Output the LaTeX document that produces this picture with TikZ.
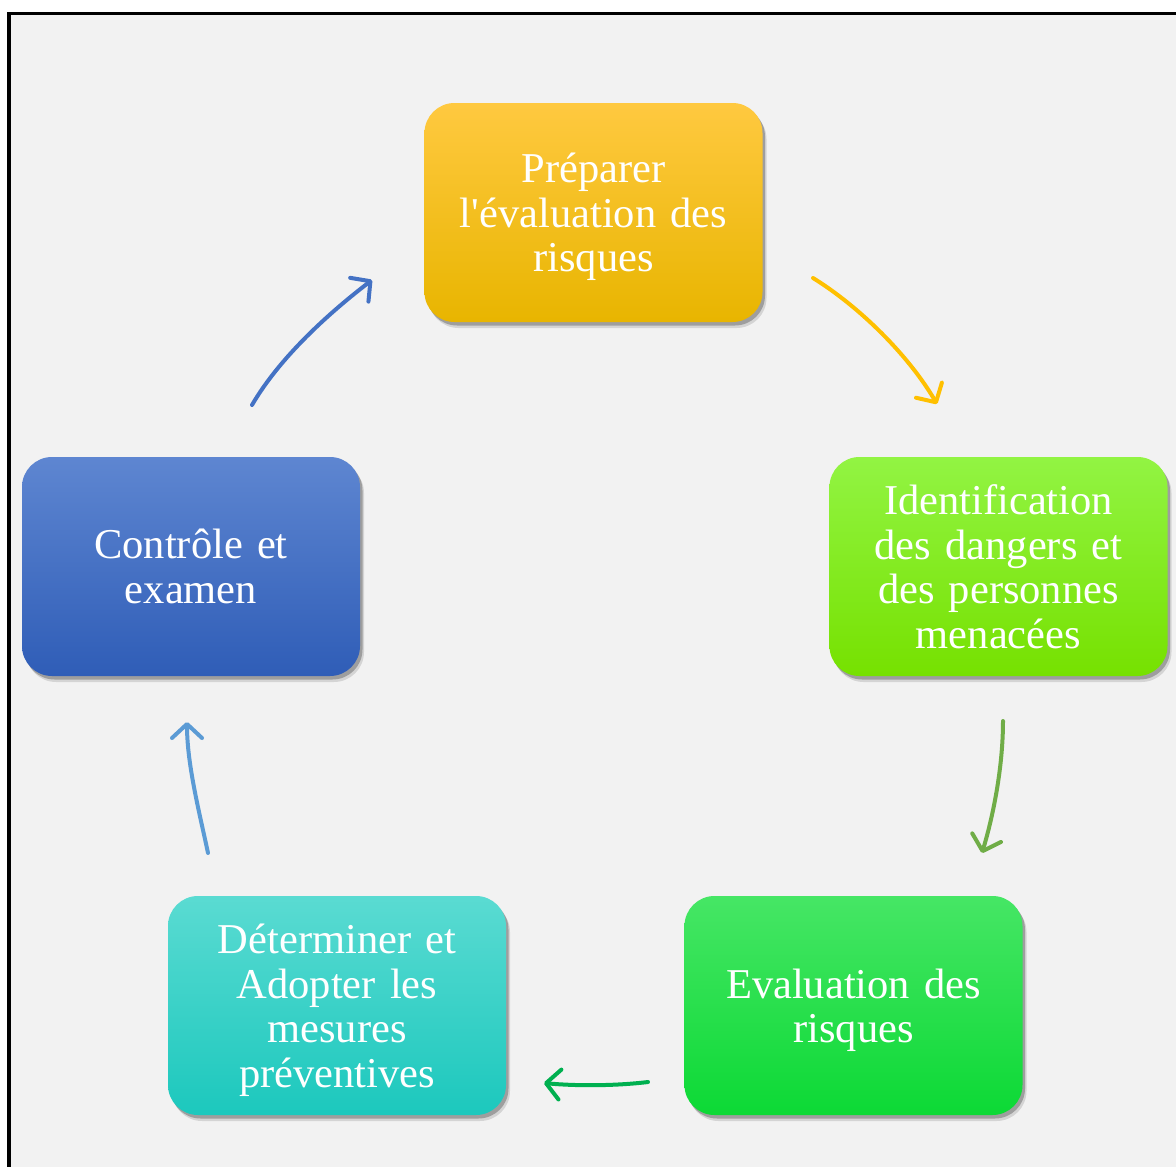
\documentclass[tikz,border=0pt]{standalone}
\usepackage{fontspec}
\setmainfont{Liberation Serif}
\setmonofont{Liberation Serif}
\usetikzlibrary{arrows.meta,shadows}
\definecolor{bgc}{HTML}{F2F2F2}
\definecolor{aOrange}{HTML}{FFC000}
\definecolor{aOlive}{HTML}{70AD47}
\definecolor{aGreen}{HTML}{00B050}
\definecolor{aLight}{HTML}{5B9BD5}
\definecolor{aBlue}{HTML}{4472C4}
\definecolor{oTop}{RGB}{255,201,64}
\definecolor{oBot}{RGB}{232,181,0}
\definecolor{lTop}{RGB}{146,244,67}
\definecolor{lBot}{RGB}{118,225,0}
\definecolor{gTop}{RGB}{70,230,101}
\definecolor{gBot}{RGB}{12,217,53}
\definecolor{tTop}{RGB}{90,219,210}
\definecolor{tBot}{RGB}{28,200,189}
\definecolor{bTop}{RGB}{94,134,209}
\definecolor{bBot}{RGB}{47,93,183}
\tikzset{
  stagebox/.style={rounded corners=30pt, minimum width=338pt, minimum height=219pt,
    text width=320pt, align=center, text=white, inner sep=0pt,
    font=\fontsize{42.5}{44.5}\selectfont,
    drop shadow={shadow xshift=4pt, shadow yshift=-6pt, opacity=0.12, fill=black},
    drop shadow={shadow xshift=2.5pt, shadow yshift=-3.5pt, opacity=0.25, fill=black}},
  cyc/.style={line width=4pt, line cap=round, -{Straight Barb[length=14pt,width=30pt,round]}},
}
\begin{document}
\begin{tikzpicture}[x=1pt,y=-1pt]
\useasboundingbox (0,0) rectangle (1176,1167);
\clip (0,0) rectangle (1176,1167);
\fill[white] (0,0) rectangle (1176,1167);
\filldraw[fill=bgc, draw=black, line width=3.5pt] (9,13.5) rectangle (1200,1200);

\node[stagebox, top color=oTop, bottom color=oBot] (prep) at (593.5,212.5) {Préparer\\l{\ttfamily '}évaluation des\\\smash{risques}};
\node[stagebox, top color=lTop, bottom color=lBot] (ident) at (998.5,566.5) {Identification\\des dangers et\\des personnes\\menacées};
\node[stagebox, top color=gTop, bottom color=gBot] (evalr) at (853.5,1005.5) {Evaluation des\\\smash{risques}};
\node[stagebox, top color=tTop, bottom color=tBot] (deter) at (337,1005.5) {Déterminer et\\Adopter les\\mesures\\\smash{préventives}};
\node[stagebox, top color=bTop, bottom color=bBot] (ctrl) at (191,566.5) {Contrôle et\\examen};

\coordinate (a1s) at (813,278);  \coordinate (a1e) at (937,404);
\coordinate (a2s) at (1003,721); \coordinate (a2e) at (982,853);
\coordinate (a3s) at (648,1082); \coordinate (a3e) at (544,1083);
\coordinate (a4s) at (208,853);  \coordinate (a4e) at (187,722);
\coordinate (a5s) at (252,405);  \coordinate (a5e) at (372,280);

\draw[cyc, aOrange] (a1s) .. controls (860,307) and (909,356) .. (a1e);
\draw[cyc, aOlive] (a2s) .. controls (1003,765) and (994,813) .. (a2e);
\draw[cyc, aGreen] (a3s) .. controls (615,1086) and (575,1086) .. (a3e);
\draw[cyc, aLight] (a4s) .. controls (200,815) and (187,765) .. (a4e);
\draw[cyc, aBlue] (a5s) .. controls (280,357) and (329,313) .. (a5e);
\end{tikzpicture}
\end{document}
